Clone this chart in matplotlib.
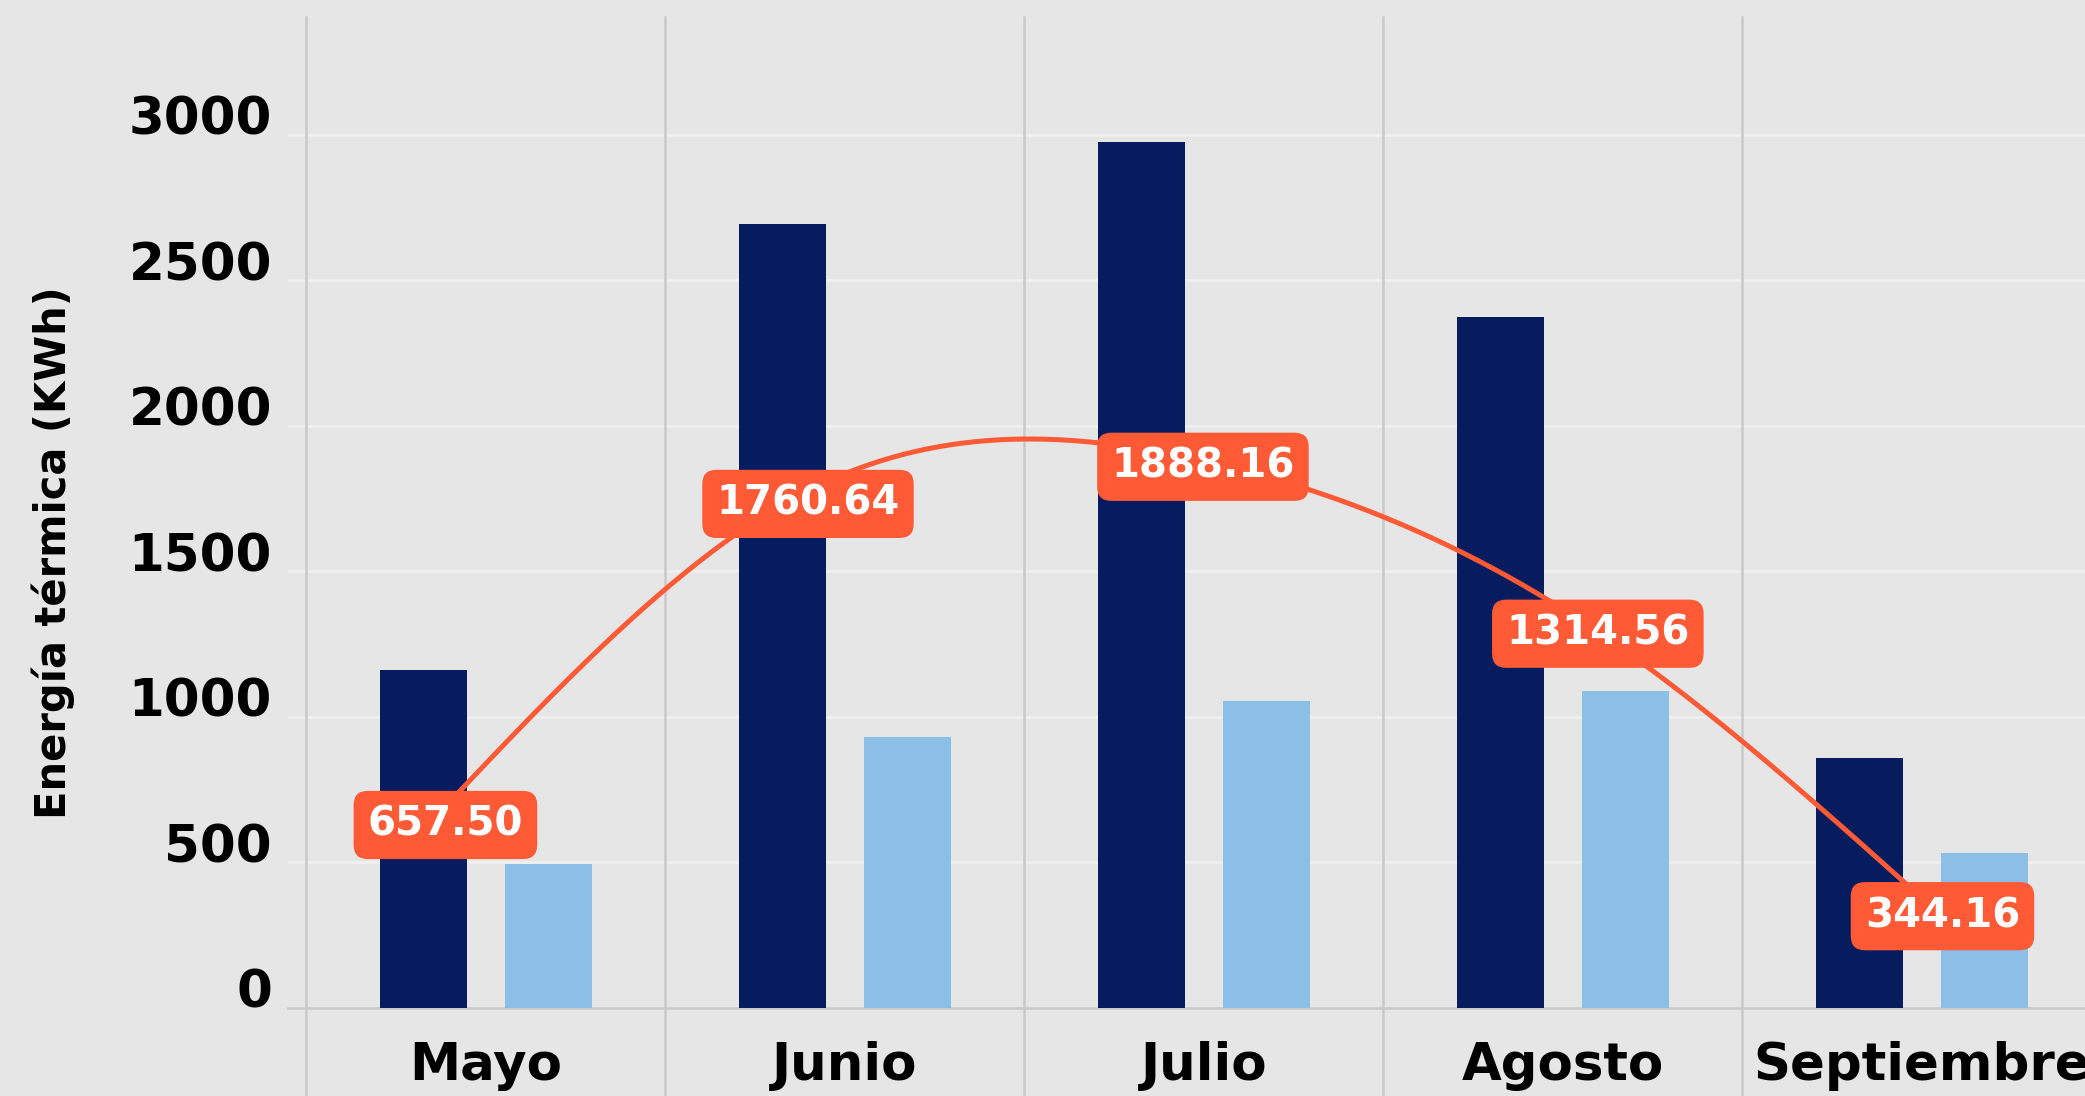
import numpy as np
import matplotlib
matplotlib.use('Agg')
import matplotlib.pyplot as plt

# ---- data ----
meses = ['Mayo', 'Junio', 'Julio', 'Agosto', 'Septiembre']
serie_oscura = [1160, 2695, 2975, 2375, 860]
serie_clara = [494, 932, 1054, 1088, 533]
linea_valores = [657.50, 1760.64, 1888.16, 1314.56, 344.16]
linea_pos = [-0.14, 0.87, 1.97, 3.07, 4.03]
y_ticks = [0, 500, 1000, 1500, 2000, 2500, 3000]
y_label = 'Energía térmica (KWh)'

# ---- style ----
BG = '#e6e6e6'
DARK = '#061c5e'
LIGHT = '#8bbfe6'
ORANGE = '#ff5a36'
SEP = '#c9c9c9'

plt.rcParams['font.family'] = ['DejaVu Sans']

fig = plt.figure(figsize=(20.85, 10.96), dpi=100, facecolor=BG)
ax = fig.add_axes([0.1381, 0.0803, 0.8619, 0.9042])
ax.set_facecolor(BG)

x = np.arange(len(meses))
w = 0.242
off = 0.174
ax.bar(x - off, serie_oscura, w, color=DARK, zorder=3)
ax.bar(x + off, serie_clara, w, color=LIGHT, zorder=3)

ax.set_xlim(-0.5515, 4.454)
ax.set_ylim(0, 3405)

# grid
for v in y_ticks[1:]:
    ax.axhline(v, color='#efefef', lw=2.0, zorder=1)
for s in np.arange(-0.5, len(meses) - 0.5, 1.0):
    ax.axvline(s, ymin=-0.1, ymax=1.0, color=SEP, lw=1.8, zorder=1, clip_on=False)

for sp in ['top', 'right', 'left']:
    ax.spines[sp].set_visible(False)
ax.spines['bottom'].set_color(SEP)
ax.spines['bottom'].set_linewidth(1.8)
ax.spines['bottom'].set_zorder(2)

ax.set_yticks(y_ticks)
ax.set_yticklabels([str(v) for v in y_ticks], fontsize=37, fontweight='bold')
for lab in ax.get_yticklabels():
    lab.set_va('baseline')
ax.tick_params(axis='y', length=0, pad=11.5)
ax.set_xticks(x)
ax.set_xticklabels(meses, fontsize=37, fontweight='bold')
ax.tick_params(axis='x', length=0, pad=24)

fig.text(53 / 2085, 1 - 553 / 1096, y_label, rotation=90, ha='center', va='center',
         fontsize=30, fontweight='bold')

# ---- smooth line: natural cubic spline through the points ----
xs = np.asarray(linea_pos, float)
ys = np.asarray(linea_valores, float)
n = len(xs)
h = np.diff(xs)
A = np.zeros((n, n))
b = np.zeros(n)
A[0, 0] = 1.0
A[-1, -1] = 1.0
for i in range(1, n - 1):
    A[i, i - 1] = h[i - 1]
    A[i, i] = 2 * (h[i - 1] + h[i])
    A[i, i + 1] = h[i]
    b[i] = 6 * ((ys[i + 1] - ys[i]) / h[i] - (ys[i] - ys[i - 1]) / h[i - 1])
M = np.linalg.solve(A, b)
xx_all, yy_all = [], []
for i in range(n - 1):
    t = np.linspace(xs[i], xs[i + 1], 80)
    a = xs[i + 1] - t
    c = t - xs[i]
    yy = (M[i] * a ** 3 + M[i + 1] * c ** 3) / (6 * h[i]) \
        + (ys[i] / h[i] - M[i] * h[i] / 6) * a \
        + (ys[i + 1] / h[i] - M[i + 1] * h[i] / 6) * c
    xx_all.append(t)
    yy_all.append(yy)
ax.plot(np.concatenate(xx_all), np.concatenate(yy_all), color=ORANGE, lw=3.6,
        zorder=4, solid_capstyle='round')

for xp, v in zip(linea_pos, linea_valores):
    ax.annotate(f'{v:.2f}', (xp, v), xytext=(7, -6), textcoords='offset points',
                ha='center', va='center', fontsize=29, fontweight='bold', color='white',
                zorder=6,
                bbox=dict(boxstyle='round,pad=0.35,rounding_size=0.35', fc=ORANGE, ec='none'))

fig.savefig('out.png', dpi=100, facecolor=BG)
